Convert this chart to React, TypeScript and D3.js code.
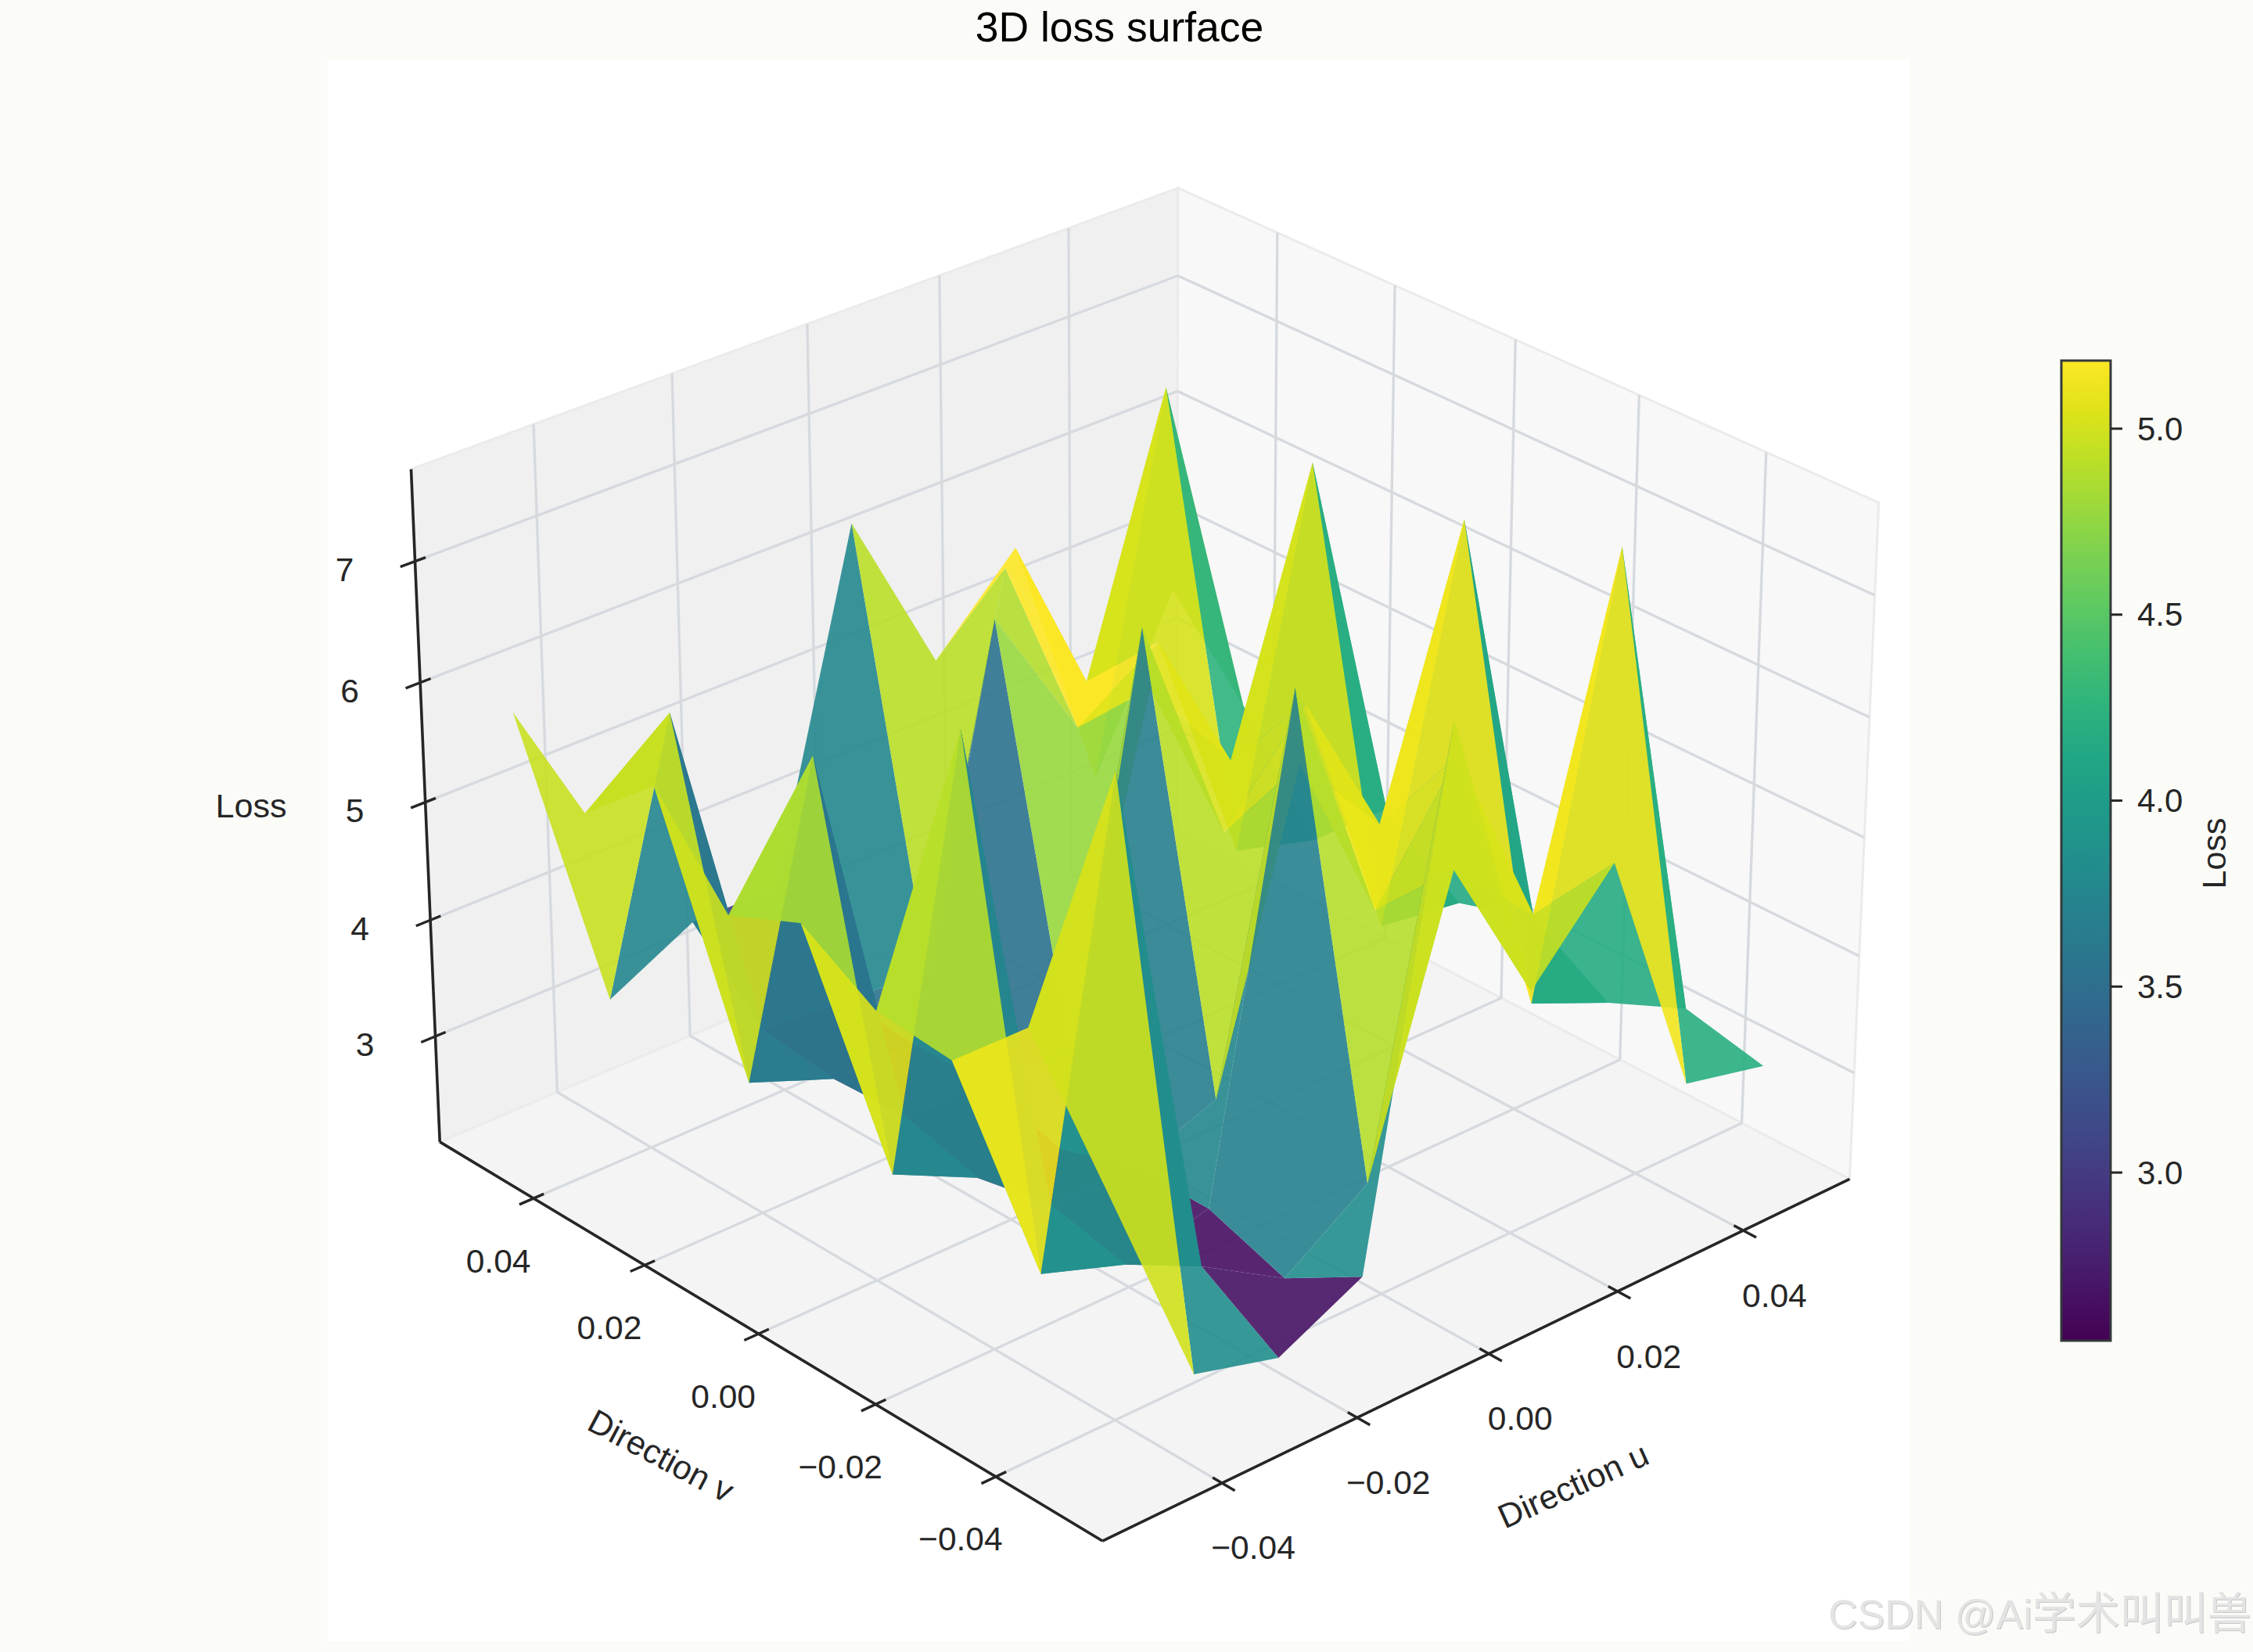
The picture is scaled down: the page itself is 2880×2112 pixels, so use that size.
import * as d3 from "d3";

// view of the 3D axes
const elevDeg = 28;
const azimDeg = -132;
const viewDist = 10;

const uLim = 0.0573;
const vLim = 0.0573;
const zLim = [2.08, 7.75];
const colorDomain = [2.548, 5.183];

const directionU = [-0.05, -0.0375, -0.025, -0.0125, 0, 0.0125, 0.025, 0.0375, 0.05];
const directionV = [-0.05, -0.0375, -0.025, -0.0125, 0, 0.0125, 0.025, 0.0375, 0.05];

// loss along v, one list per u position
const lossU0 = [4.53, 5.5, 4.89, 4.95, 5.33, 5.06, 5.8, 5.25, 5.77];
const lossU1 = [2.7, 7.24, 2.8, 6.93, 2.92, 6.08, 3.0, 5.8, 3.03];
const lossU2 = [2.5, 2.9, 2.55, 2.7, 2.57, 2.75, 2.72, 2.8, 3.4];
const lossU3 = [2.85, 2.47, 2.7, 2.7, 2.5, 2.7, 2.7, 2.75, 3.4];
const lossU4 = [7.1, 2.95, 6.73, 2.96, 6.6, 2.7, 6.05, 2.7, 6.25];
const lossU5 = [4.6, 5.27, 4.6, 5.5, 4.6, 5.5, 4.85, 5.9, 4.8];
const lossU6 = [5.36, 4.6, 5.6, 4.7, 5.4, 4.6, 5.3, 4.65, 5.5];
const lossU7 = [3.2, 7.35, 3.2, 6.97, 3.2, 6.85, 3.2, 6.9, 3.2];
const lossU8 = [3.04, 3.19, 2.9, 3.3, 3.1, 3.6, 3.0, 3.88, 4.58];
const lossGrid = [lossU0, lossU1, lossU2, lossU3, lossU4, lossU5, lossU6, lossU7, lossU8];

const uTicks = [-0.04, -0.02, 0, 0.02, 0.04];
const vTicks = [-0.04, -0.02, 0, 0.02, 0.04];
const zTicks = [3, 4, 5, 6, 7];
const planeTickLabels = ["\u22120.04", "\u22120.02", "0.00", "0.02", "0.04"];
const colorTicks = [3.0, 3.5, 4.0, 4.5, 5.0];

const ink = "#262626";
const gridColor = "#d6dadf";
const font = "'Liberation Sans', Arial, sans-serif";

// world box, same normalisation as a matplotlib Axes3D (4:4:3)
const aspectNorm = 1.8294640721620434 / Math.hypot(4, 4, 3);
const box = [4 * aspectNorm, 4 * aspectNorm, 3 * aspectNorm];
const worldX = d3.scaleLinear().domain([-uLim, uLim]).range([-box[0] / 2, box[0] / 2]);
const worldY = d3.scaleLinear().domain([-vLim, vLim]).range([-box[1] / 2, box[1] / 2]);
const worldZ = d3.scaleLinear().domain(zLim).range([-box[2] / 2, box[2] / 2]);

const el = (elevDeg * Math.PI) / 180;
const az = (azimDeg * Math.PI) / 180;
const n = [Math.cos(el) * Math.cos(az), Math.cos(el) * Math.sin(az), Math.sin(el)];
const nh = Math.hypot(n[0], n[1]);
const right = [-n[1] / nh, n[0] / nh, 0];
const up = [
  n[1] * right[2] - n[2] * right[1],
  n[2] * right[0] - n[0] * right[2],
  n[0] * right[1] - n[1] * right[0],
];
const dot = (a: number[], b: number[]) => a[0] * b[0] + a[1] * b[1] + a[2] * b[2];

const screenX = d3.scaleLinear().domain([-0.1, 0.1]).range([1460 - 1139, 1460 + 1139]);
const screenY = d3.scaleLinear().domain([-0.1, 0.1]).range([1061 + 1139, 1061 - 1139]);

function project(u: number, v: number, z: number) {
  const p = [worldX(u), worldY(v), worldZ(z)];
  const w = viewDist - dot(n, p);
  return { x: screenX(dot(right, p) / w), y: screenY(dot(up, p) / w), depth: w };
}

const linePath = d3
  .line<{ x: number; y: number }>()
  .x((d) => d.x)
  .y((d) => d.y);

const quad = (pts: number[][]) => linePath(pts.map((p) => project(p[0], p[1], p[2]))) + "Z";
const seg = (a: number[], b: number[]) => linePath([project(a[0], a[1], a[2]), project(b[0], b[1], b[2])]) as string;

const viridis = d3.scaleSequential(d3.interpolateViridis).domain(colorDomain);

// faces painted far to near
const faces = d3
  .range(directionU.length - 1)
  .flatMap((i) =>
    d3.range(directionV.length - 1).map((j) => {
      const corners = [
        [directionU[i], directionV[j], lossGrid[i][j]],
        [directionU[i + 1], directionV[j], lossGrid[i + 1][j]],
        [directionU[i + 1], directionV[j + 1], lossGrid[i + 1][j + 1]],
        [directionU[i], directionV[j + 1], lossGrid[i][j + 1]],
      ];
      const depth = d3.mean(corners, (c) => project(c[0], c[1], c[2]).depth) as number;
      const mean = d3.mean(corners, (c) => c[2]) as number;
      return { key: `${i}-${j}`, corners, depth, mean };
    })
  )
  .sort((a, b) => b.depth - a.depth);

const zLo = zLim[0];
const zHi = zLim[1];

const barX = 2635;
const barW = 63;
const barY = d3.scaleLinear().domain(colorDomain).range([1714, 461]);

export default function App() {
  const gridLines: string[] = [];
  uTicks.forEach((t) => {
    gridLines.push(seg([t, -vLim, zLo], [t, vLim, zLo]));
    gridLines.push(seg([t, vLim, zLo], [t, vLim, zHi]));
  });
  vTicks.forEach((t) => {
    gridLines.push(seg([-uLim, t, zLo], [uLim, t, zLo]));
    gridLines.push(seg([uLim, t, zLo], [uLim, t, zHi]));
  });
  zTicks.forEach((t) => {
    gridLines.push(seg([-uLim, vLim, t], [uLim, vLim, t]));
    gridLines.push(seg([uLim, vLim, t], [uLim, -vLim, t]));
  });

  const tickIn = 0.013;
  const tickOut = 0.018;
  const uSpan = 2 * uLim;
  const vSpan = 2 * vLim;

  return (
    <svg
      width={2880}
      height={2112}
      viewBox="0 0 2880 2112"
      style={{ position: "fixed", left: 0, top: 0, display: "block" }}
      fontFamily={font}
    >
      <rect width={2880} height={2112} fill="#fbfcf8" />
      <rect x={419} y={77} width={2022} height={2021} fill="#ffffff" />

      {/* panes */}
      <path d={quad([[-uLim, vLim, zLo], [uLim, vLim, zLo], [uLim, vLim, zHi], [-uLim, vLim, zHi]])} fill="#f0f0f0" stroke="#ebebeb" strokeWidth={3} />
      <path d={quad([[uLim, vLim, zLo], [uLim, -vLim, zLo], [uLim, -vLim, zHi], [uLim, vLim, zHi]])} fill="#f8f8f8" stroke="#ebebeb" strokeWidth={3} />
      <path d={quad([[-uLim, -vLim, zLo], [uLim, -vLim, zLo], [uLim, vLim, zLo], [-uLim, vLim, zLo]])} fill="#f4f4f4" stroke="#ebebeb" strokeWidth={3} />

      {gridLines.map((d, k) => (
        <path key={k} d={d} fill="none" stroke={gridColor} strokeWidth={3.4} />
      ))}

      {/* axis lines */}
      <path d={seg([-uLim, -vLim, zLo], [uLim, -vLim, zLo])} stroke={ink} strokeWidth={3.6} fill="none" />
      <path d={seg([-uLim, -vLim, zLo], [-uLim, vLim, zLo])} stroke={ink} strokeWidth={3.6} fill="none" />
      <path d={seg([-uLim, vLim, zLo], [-uLim, vLim, zHi])} stroke={ink} strokeWidth={3.6} fill="none" />

      {/* ticks and their labels */}
      {uTicks.map((t, k) => {
        const p = project(t, -vLim, zLo);
        return (
          <g key={k}>
            <path d={seg([t, -vLim - tickOut * vSpan, zLo], [t, -vLim + tickIn * vSpan, zLo])} stroke={ink} strokeWidth={3.4} />
            <text x={p.x + 40} y={p.y + 83} fontSize={42.5} fill={ink} textAnchor="middle" dominantBaseline="central">
              {planeTickLabels[k]}
            </text>
          </g>
        );
      })}
      {vTicks.map((t, k) => {
        const p = project(-uLim, t, zLo);
        return (
          <g key={k}>
            <path d={seg([-uLim - tickOut * uSpan, t, zLo], [-uLim + tickIn * uSpan, t, zLo])} stroke={ink} strokeWidth={3.4} />
            <text x={p.x - 45} y={p.y + 80} fontSize={42.5} fill={ink} textAnchor="middle" dominantBaseline="central">
              {planeTickLabels[k]}
            </text>
          </g>
        );
      })}
      {zTicks.map((t) => {
        const p = project(-uLim, vLim, t);
        return (
          <g key={t}>
            <path d={seg([-uLim - tickOut * uSpan, vLim, t], [-uLim + tickIn * uSpan, vLim, t])} stroke={ink} strokeWidth={3.4} />
            <text x={p.x - 90} y={p.y + 11} fontSize={42.5} fill={ink} textAnchor="middle" dominantBaseline="central">
              {t}
            </text>
          </g>
        );
      })}

      {/* surface */}
      {faces.map((f) => (
        <path key={f.key} d={quad(f.corners)} fill={viridis(f.mean)} fillOpacity={0.9} />
      ))}

      {/* titles */}
      <text x={1431} y={34} fontSize={53.5} fill="#000" textAnchor="middle" dominantBaseline="central">
        3D loss surface
      </text>
      <text x={2011} y={1899} fontSize={43} fill={ink} textAnchor="middle" dominantBaseline="central" transform="rotate(-24.4 2011 1899)">
        Direction u
      </text>
      <text x={845} y={1861} fontSize={43} fill={ink} textAnchor="middle" dominantBaseline="central" transform="rotate(28 845 1861)">
        Direction v
      </text>
      <text x={321} y={1030} fontSize={43} fill={ink} textAnchor="middle" dominantBaseline="central">
        Loss
      </text>

      {/* colorbar */}
      <defs>
        <linearGradient id="barGrad" x1="0" y1="1" x2="0" y2="0">
          {d3.range(0, 1.001, 0.05).map((t) => (
            <stop key={t} offset={t} stopColor={d3.interpolateViridis(t)} />
          ))}
        </linearGradient>
      </defs>
      <rect x={barX} y={barY(colorDomain[1])} width={barW} height={barY(colorDomain[0]) - barY(colorDomain[1])} fill="url(#barGrad)" stroke="#33393a" strokeWidth={3} />
      {colorTicks.map((t) => (
        <g key={t}>
          <line x1={barX + barW} x2={barX + barW + 15} y1={barY(t)} y2={barY(t)} stroke={ink} strokeWidth={3} />
          <text x={2732} y={barY(t)} fontSize={42} fill={ink} dominantBaseline="central">
            {d3.format(".1f")(t)}
          </text>
        </g>
      ))}
      <text x={2830} y={1091} fontSize={43} fill={ink} textAnchor="middle" dominantBaseline="central" transform="rotate(-90 2830 1091)">
        Loss
      </text>

      {/* watermark */}
      <text x={2337} y={2082} fill="#e4e4e4" fontFamily="'Liberation Sans', 'Noto Sans CJK SC', sans-serif" style={{ filter: "drop-shadow(1.5px 1.5px 0 #c8c8c8)" }}>
        <tspan fontSize={52}>CSDN @Ai</tspan>
        <tspan fontSize={56} fontFamily="'Noto Sans CJK SC', sans-serif">学术叫叫兽</tspan>
      </text>
    </svg>
  );
}
